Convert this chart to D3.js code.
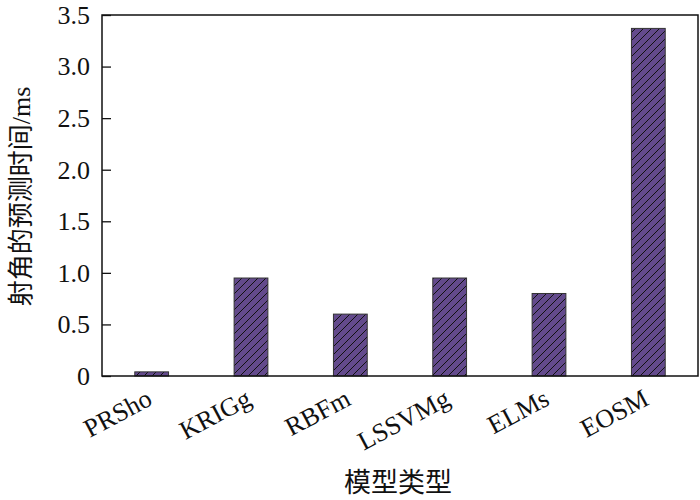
<!DOCTYPE html>
<html><head><meta charset="utf-8">
<script src="https://cdn.jsdelivr.net/npm/d3@7"></script>
<style>body{margin:0;background:#fff}svg{display:block}</style>
</head><body>
<svg id="c" width="700" height="500"></svg>
<script>
const categories = ["PRSho","KRIGg","RBFm","LSSVMg","ELMs","EOSM"];
const values = [0.04, 0.95, 0.60, 0.95, 0.80, 3.37];
const yTicks = [0, 0.5, 1.0, 1.5, 2.0, 2.5, 3.0, 3.5];
const yTickLabels = ["0","0.5","1.0","1.5","2.0","2.5","3.0","3.5"];
const xTitle = "模型类型";
const yTitle = "射角的预测时间/ms";

const svg = d3.select("#c");
const L = 102, R = 698, T = 15, B = 376;
const serif = "'Liberation Serif', 'DejaVu Serif', serif";
const cjk = "'Liberation Serif', 'Noto Sans CJK SC', sans-serif";

const defs = svg.append("defs");
const pat = defs.append("pattern").attr("id","hatch").attr("patternUnits","userSpaceOnUse")
  .attr("width",8).attr("height",8);
pat.append("rect").attr("width",8).attr("height",8).attr("fill","#634a8c");
pat.append("path").attr("d","M-2,2 L2,-2 M0,8 L8,0 M6,10 L10,6").attr("stroke","#111").attr("stroke-width",1);

const x = d3.scaleBand().domain(categories).range([L,R]).paddingInner(0.66).paddingOuter(0.33);
const y = d3.scaleLinear().domain([0,3.5]).range([B,T]);

// bars
svg.append("g").selectAll("rect").data(categories).join("rect")
  .attr("x", d=>x(d)).attr("width", x.bandwidth())
  .attr("y", (d,i)=>y(values[i])).attr("height",(d,i)=>B-y(values[i]))
  .attr("fill","url(#hatch)").attr("stroke","#333").attr("stroke-width",1);

// frame
svg.append("rect").attr("x",L).attr("y",T).attr("width",R-L).attr("height",B-T)
  .attr("fill","none").attr("stroke","#111").attr("stroke-width",1.5);

// y axis
const ya = d3.axisLeft(y).tickValues(yTicks).tickFormat((d,i)=>yTickLabels[i]).tickSizeInner(-9).tickSizeOuter(0).tickPadding(12);
const gy = svg.append("g").attr("transform",`translate(${L},0)`).call(ya)
  .attr("font-family", null).attr("font-size", null);
gy.select(".domain").remove();
gy.selectAll(".tick line").attr("stroke","#111").attr("stroke-width",1.3);
gy.selectAll(".tick text").style("font-family",serif).style("font-size","26px").attr("fill","#111");

// x labels
svg.append("g").selectAll("text").data(categories).join("text")
  .attr("transform", d=>`translate(${x(d)+x.bandwidth()/2+2},404) rotate(-28)`)
  .attr("text-anchor","end").style("font-family",serif).style("font-size","26px").attr("fill","#111")
  .text(d=>d);

// titles
svg.append("text").attr("x",(L+R)/2-2).attr("y",492).attr("text-anchor","middle")
  .style("font-family",cjk).style("font-size","27px").attr("fill","#111").text(xTitle);
svg.append("text").attr("transform",`translate(30,${(T+B)/2+1}) rotate(-90)`).attr("text-anchor","middle")
  .style("font-family",cjk).style("font-size","26px").attr("fill","#111").text(yTitle);
</script>
</body></html>
